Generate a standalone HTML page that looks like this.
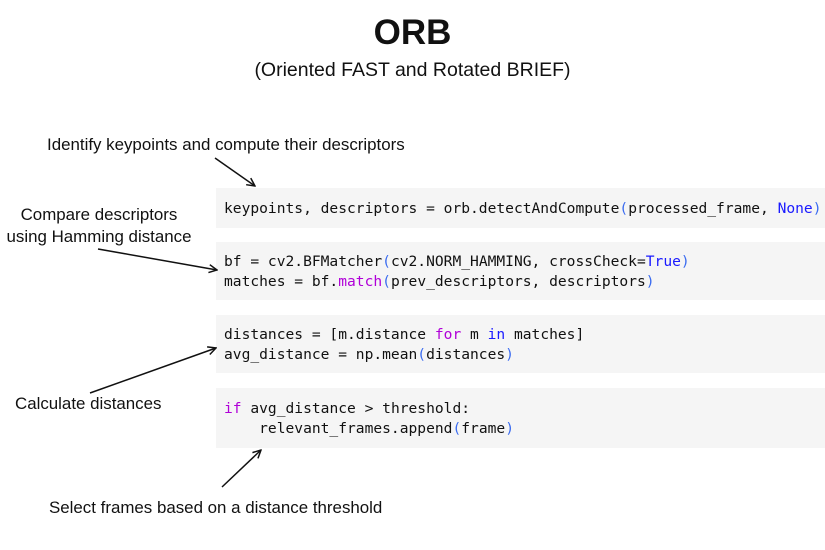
<!DOCTYPE html>
<html><head><meta charset="utf-8"><style>
body{margin:0;width:825px;height:550px;background:#fff;position:relative;overflow:hidden;font-family:"Liberation Sans",sans-serif;color:#111}
.t{position:absolute;white-space:nowrap}
.box{position:absolute;left:216px;width:609px;background:#f5f5f5}
.code{position:absolute;left:224px;font-family:"DejaVu Sans Mono","Liberation Mono",monospace;font-size:14.6px;line-height:20px;white-space:pre;color:#111}
.b{color:#1a1aff}.p{color:#b000d8}.k{color:#3b6cf0}
.l{font-size:16.9px}
</style></head><body>
<div class="t" style="left:0;width:825px;text-align:center;top:13px;font-size:35px;font-weight:bold">ORB</div>
<div class="t" style="left:0;width:825px;text-align:center;top:59px;font-size:19.5px">(Oriented FAST and Rotated BRIEF)</div>

<div class="t l" style="left:47px;top:135px">Identify keypoints and compute their descriptors</div>
<div class="t l" style="left:0;width:198px;text-align:center;top:204px;line-height:22px">Compare descriptors<br>using Hamming distance</div>
<div class="t l" style="left:15px;top:394px">Calculate distances</div>
<div class="t l" style="left:49px;top:498px">Select frames based on a distance threshold</div>

<div class="box" style="top:188px;height:40px"></div>
<div class="box" style="top:242px;height:58px"></div>
<div class="box" style="top:315px;height:58px"></div>
<div class="box" style="top:388px;height:60px"></div>

<div class="code" style="top:199px">keypoints, descriptors = orb.detectAndCompute<span class="k">(</span>processed_frame, <span class="b">None</span><span class="k">)</span></div>
<div class="code" style="top:252px">bf = cv2.BFMatcher<span class="k">(</span>cv2.NORM_HAMMING, crossCheck=<span class="b">True</span><span class="k">)</span>
matches = bf.<span class="p">match</span><span class="k">(</span>prev_descriptors, descriptors<span class="k">)</span></div>
<div class="code" style="top:325px">distances = [m.distance <span class="p">for</span> m <span class="b">in</span> matches]
avg_distance = np.mean<span class="k">(</span>distances<span class="k">)</span></div>
<div class="code" style="top:399px"><span class="p">if</span> avg_distance &gt; threshold:
    relevant_frames.append<span class="k">(</span>frame<span class="k">)</span></div>

<svg width="825" height="550" style="position:absolute;left:0;top:0">
<defs><marker id="a" markerWidth="10" markerHeight="10" refX="9" refY="5" orient="auto" markerUnits="userSpaceOnUse"><path d="M1,1 L9,5 L1,9" fill="none" stroke="#111" stroke-width="1.5"/></marker></defs>
<g stroke="#111" stroke-width="1.5" fill="none" marker-end="url(#a)">
<line x1="215" y1="158" x2="255" y2="186"/>
<line x1="98" y1="249" x2="217" y2="270"/>
<line x1="90" y1="393" x2="216" y2="348"/>
<line x1="222" y1="487" x2="261" y2="450"/>
</g></svg>
</body></html>
